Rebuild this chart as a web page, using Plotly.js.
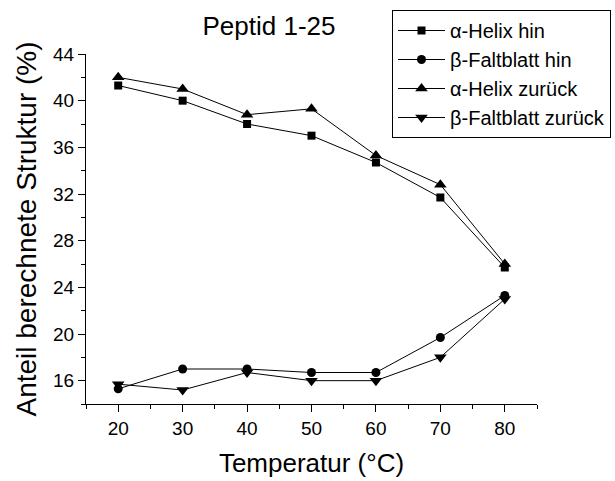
<!DOCTYPE html>
<html>
<head>
<meta charset="utf-8">
<script src="https://cdn.plot.ly/plotly-3.0.1.min.js"></script>
<style>html,body{margin:0;padding:0;background:#fff;}#chart{width:615px;height:481px;}</style>
</head>
<body>
<div id="chart"></div>
<script>
const temperatures = [20, 30, 40, 50, 60, 70, 80];
const helixHin = [41.3, 40.0, 38.0, 37.0, 34.7, 31.7, 25.7];
const faltblattHin = [15.3, 17.0, 17.0, 16.7, 16.7, 19.7, 23.3];
const helixZurueck = [42.0, 41.0, 38.8, 39.3, 35.3, 32.8, 26.0];
const faltblattZurueck = [15.7, 15.2, 16.7, 16.0, 16.0, 18.0, 23.0];
const seriesNames = ["α-Helix hin", "β-Faltblatt hin", "α-Helix zurück", "β-Faltblatt zurück"];

const FONT = "Arial, 'Liberation Sans', sans-serif";
const mk = (y, name, symbol, size) => ({
  x: temperatures, y: y, name: name, type: 'scatter', mode: 'lines+markers',
  line: {color: '#000', width: 1},
  marker: {symbol: symbol, size: size, color: '#000'}
});

const data = [
  mk(helixHin, seriesNames[0], 'square', 8),
  mk(faltblattHin, seriesNames[1], 'circle', 9),
  mk(helixZurueck, seriesNames[2], 'triangle-up', 11),
  mk(faltblattZurueck, seriesNames[3], 'triangle-down', 11)
];

const layout = {
  width: 615, height: 481,
  margin: {l: 86, r: 78, t: 54, b: 77, pad: 0, autoexpand: false},
  paper_bgcolor: '#fff', plot_bgcolor: '#fff',
  font: {family: FONT, color: '#000'},
  title: {text: 'Peptid 1-25', font: {size: 26, family: FONT, color: '#000'},
          xref: 'container', x: 269/615, xanchor: 'center',
          yref: 'container', y: 1 - 26/481, yanchor: 'middle', automargin: false},
  xaxis: {
    range: [15, 85], tick0: 0, dtick: 10, ticks: 'outside', ticklen: 7, tickwidth: 1,
    tickcolor: '#000', showline: true, linecolor: '#000', linewidth: 1, automargin: false,
    showgrid: false, zeroline: false, tickfont: {size: 19, family: FONT},
    minor: {dtick: 5, ticks: 'outside', ticklen: 4, tickcolor: '#000', showgrid: false},
    title: {text: 'Temperatur (°C)', font: {size: 26, family: FONT}, standoff: 16}
  },
  yaxis: {
    range: [14, 44], tick0: 0, dtick: 4, ticks: 'outside', ticklen: 7, tickwidth: 1,
    tickcolor: '#000', showline: true, linecolor: '#000', linewidth: 1, automargin: false,
    showgrid: false, zeroline: false, tickfont: {size: 19, family: FONT},
    minor: {dtick: 2, ticks: 'outside', ticklen: 4, tickcolor: '#000', showgrid: false},
    title: {text: 'Anteil berechnete Struktur (%)', font: {size: 28, family: FONT}, standoff: 8}
  },
  showlegend: true,
  legend: {
    xref: 'container', yref: 'container', x: 392/615, y: 1 - 10/481,
    xanchor: 'left', yanchor: 'top', bgcolor: '#fff', bordercolor: '#000', borderwidth: 1,
    font: {size: 20, family: FONT, color: '#000'}, tracegroupgap: 0, itemwidth: 47
  }
};

Plotly.newPlot('chart', data, layout, {staticPlot: true, displayModeBar: false});
</script>
</body>
</html>
